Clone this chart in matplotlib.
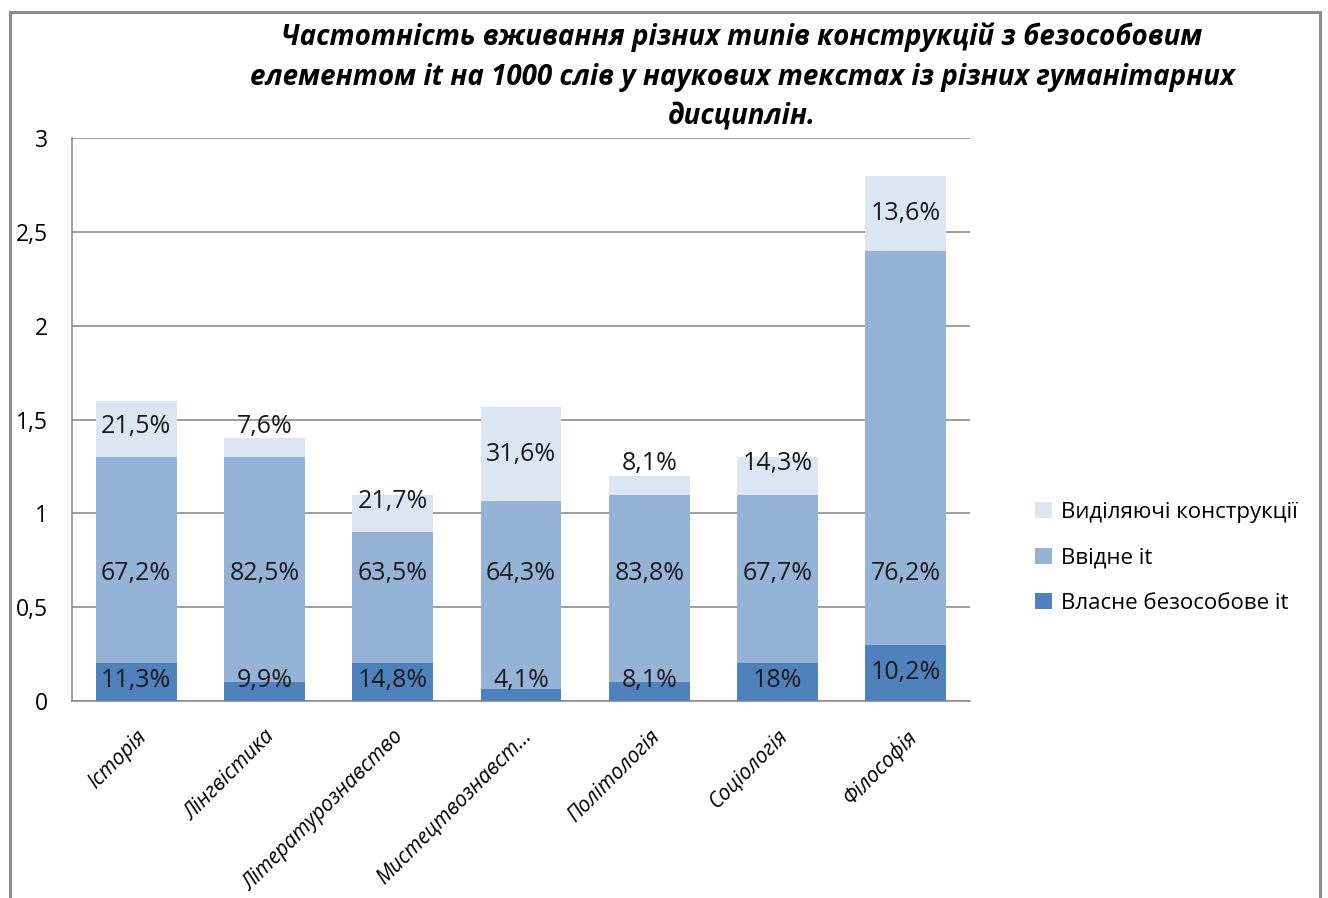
import matplotlib.pyplot as plt
import numpy as np
from matplotlib.patches import Rectangle

# disciplines and per-1000-word frequencies of each construction type
categories = ['Історія', 'Лінгвістика', 'Літературознавство', 'Мистецтвознавст…',
              'Політологія', 'Соціологія', 'Філософія']
impersonal = [0.2, 0.1, 0.2, 0.065, 0.1, 0.2, 0.3]
introductory = [1.1, 1.2, 0.7, 1.0, 1.0, 0.9, 2.1]
emphatic = [0.3, 0.1, 0.2, 0.5, 0.1, 0.2, 0.4]

# share labels shown on the segments
impersonal_pct = ['11,3%', '9,9%', '14,8%', '4,1%', '8,1%', '18%', '10,2%']
introductory_pct = ['67,2%', '82,5%', '63,5%', '64,3%', '83,8%', '67,7%', '76,2%']
emphatic_pct = ['21,5%', '7,6%', '21,7%', '31,6%', '8,1%', '14,3%', '13,6%']

series_names = ['Власне безособове it', 'Ввідне it', 'Виділяючі конструкції']
colors = ['#4F81BD', '#95B3D7', '#DCE6F2']

title = ('Частотність вживання різних типів конструкцій з безособовим\n'
         'елементом it на 1000 слів у наукових текстах із різних гуманітарних\n'
         'дисциплін.')

plt.rcParams['font.family'] = ['Open Sans', 'DejaVu Sans']

fig = plt.figure(figsize=(13.28, 8.98), dpi=100)
ax = fig.add_axes([72 / 1328, 1 - 701 / 898, 898 / 1328, 563 / 898])

x = np.arange(len(categories))
width = 0.63
bottom = np.zeros(len(categories))
series = [impersonal, introductory, emphatic]
labels = [impersonal_pct, introductory_pct, emphatic_pct]
pads = [0.11, None, 0.165]

for vals, lab, pad, col, name in zip(series, labels, pads, colors, series_names):
    vals = np.array(vals)
    ax.bar(x, vals, width, bottom=bottom, color=col, label=name, zorder=3)
    for i in range(len(x)):
        if pad is None:
            y = 0.68
        else:
            y = max(bottom[i] + vals[i] / 2, bottom[i] + pad)
        ax.text(x[i], y, lab[i], ha='center', va='center', fontsize=18,
                color='#1a1a1a', zorder=4)
    bottom = bottom + vals

ax.set_xlim(-0.5, len(categories) - 0.5)
ax.set_ylim(0, 3)
ax.set_yticks([0, 0.5, 1, 1.5, 2, 2.5, 3])
ax.set_yticklabels(['0', '0,5', '1', '1,5', '2', '2,5', '3'], fontsize=16.5)
ax.yaxis.grid(True, color='#8C8C8C', linewidth=1.2, zorder=0)
ax.tick_params(axis='y', length=0, pad=17)
ax.tick_params(axis='x', length=0, pad=18)
ax.set_xticks(x)
ax.set_xticklabels(categories, rotation=45, ha='right', rotation_mode='anchor',
                   fontsize=15, style='italic')

for s in ['top', 'right']:
    ax.spines[s].set_visible(False)
ax.spines['left'].set_color('#8C8C8C')
ax.spines['bottom'].set_color('#8C8C8C')
ax.spines['left'].set_linewidth(1.2)
ax.spines['bottom'].set_linewidth(1.2)

handles, names = ax.get_legend_handles_labels()
fig.legend(handles[::-1], names[::-1], loc='center left',
           bbox_to_anchor=(1015 / 1328, 1 - 558 / 898), frameon=False,
           fontsize=16, handlelength=0.75, handleheight=0.75,
           handletextpad=0.4, labelspacing=1.1)

fig.text(742 / 1328, 1 - 77 / 898, title, ha='center', va='center',
         fontsize=20, fontweight='bold', style='italic', linespacing=1.5)

# grey chart frame, open at the bottom
fig.add_artist(Rectangle((10 / 1328, -0.05), 1310 / 1328, 1.05 - 12 / 898,
                         transform=fig.transFigure, fill=False,
                         edgecolor='#8C8C8C', linewidth=2.2, clip_on=False))

fig.savefig('out.png', dpi=100)
